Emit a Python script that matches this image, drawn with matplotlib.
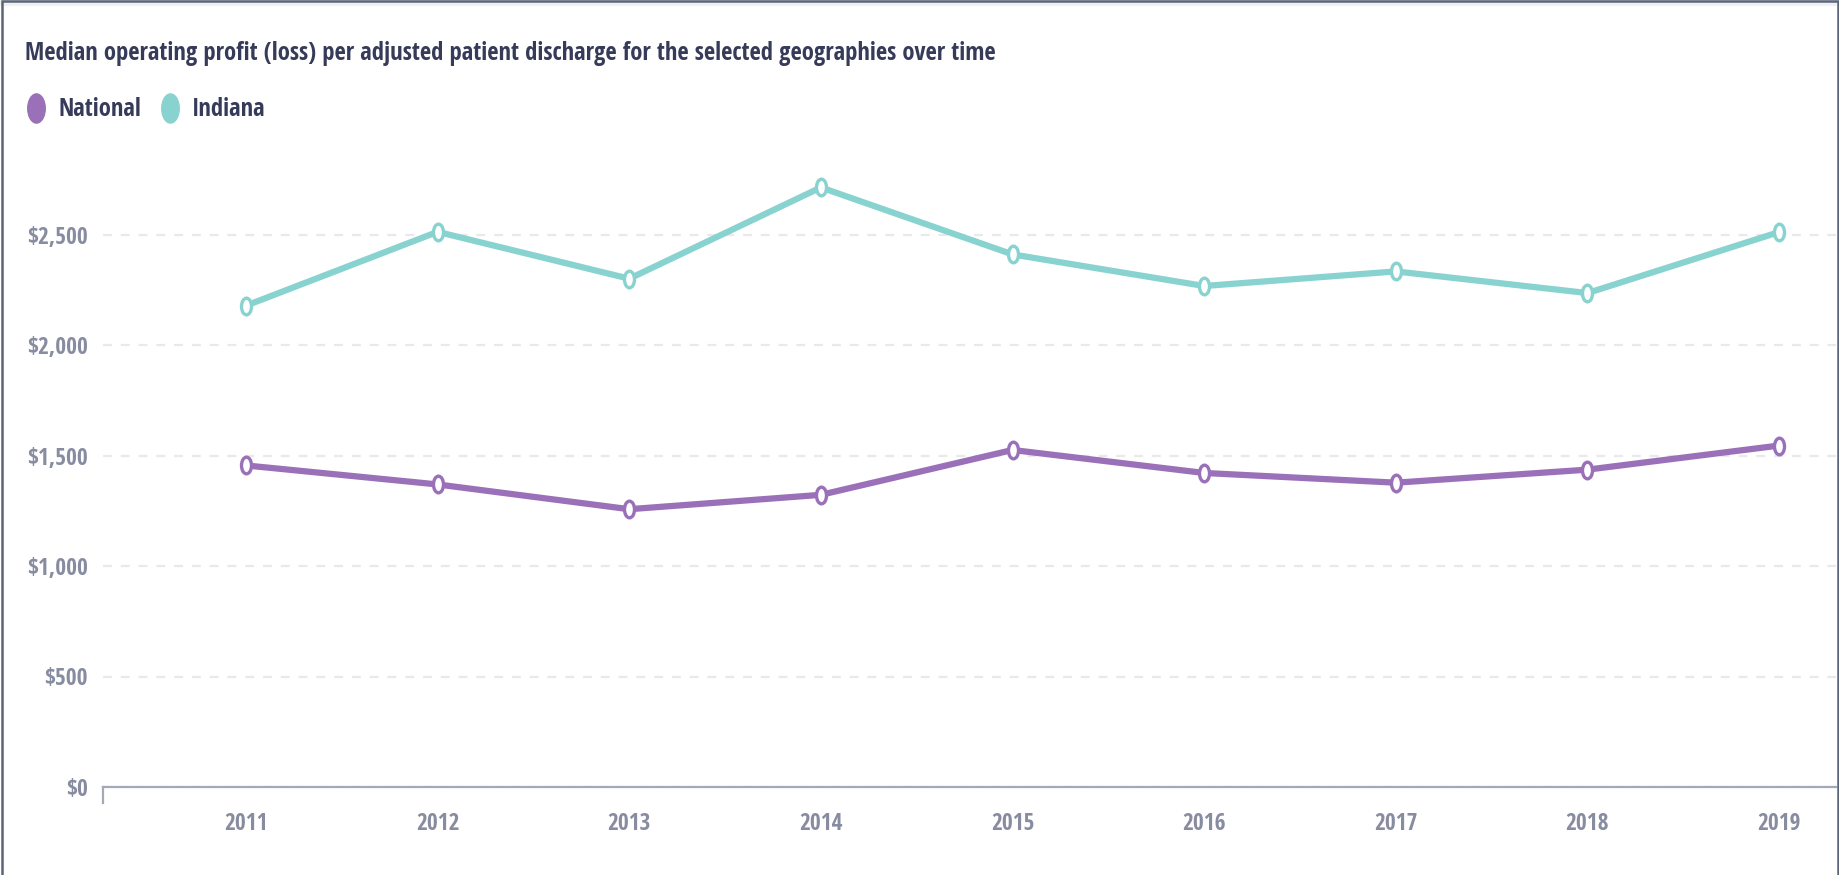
import os
import matplotlib
matplotlib.use("Agg")
import matplotlib.pyplot as plt
from matplotlib import font_manager
from matplotlib.font_manager import FontProperties
from matplotlib.lines import Line2D
from matplotlib.path import Path
from matplotlib.patches import Rectangle
from matplotlib.transforms import Affine2D, IdentityTransform
from matplotlib.ticker import FuncFormatter

# Data
years = [2011, 2012, 2013, 2014, 2015, 2016, 2017, 2018, 2019]
national = [1455, 1369, 1257, 1322, 1525, 1421, 1377, 1436, 1545]
indiana = [2178, 2512, 2300, 2713, 2410, 2267, 2333, 2235, 2511]
series_names = ["National", "Indiana"]
y_ticks = [0, 500, 1000, 1500, 2000, 2500]
title = "Median operating profit (loss) per adjusted patient discharge for the selected geographies over time"

PURPLE = "#9a70b9"
TEAL = "#88d3d0"
TITLE_COLOR = "#353b58"
TICK_COLOR = "#878ca1"
AXIS_COLOR = "#a4a8b8"
GRID_COLOR = "#e9e9ec"
BORDER = "#5b6578"


def weight_num(w):
    if isinstance(w, int):
        return w
    return font_manager.weight_dict.get(str(w), 400)


def find_narrow(want):
    # the reference text is squeezed sideways, look for a condensed face
    prefs = ["Lato", "Open Sans", "Noto Sans", "Roboto", "Inter", "DejaVu Sans", "Liberation Sans"]
    best = None
    for f in font_manager.fontManager.ttflist:
        base = os.path.basename(f.fname)
        narrow = ("condensed" in str(f.stretch) or "Condensed" in f.name or "Narrow" in f.name
                  or "Condensed" in base or "Narrow" in base)
        if not narrow or "Italic" in base or "Oblique" in base:
            continue
        w = weight_num(f.weight)
        if w < 500 or w > 800:
            continue
        rank = next((i for i, p in enumerate(prefs) if f.name.startswith(p)), len(prefs))
        key = (rank, abs(w - want))
        if best is None or key < best[0]:
            best = (key, f.fname)
    if best:
        return FontProperties(fname=best[1])
    return FontProperties(family="Lato", weight="bold")


plt.rcParams["font.family"] = ["Lato", "DejaVu Sans"]
fp_bold = find_narrow(700)
fp_semi = find_narrow(600)

# tall ellipse marker, as in the reference
ellipse = Path.unit_circle().transformed(Affine2D().scale(0.6, 1.0))

W, H = 1839, 875
fig = plt.figure(figsize=(W / 100, H / 100), dpi=100)
fig.patch.set_facecolor("white")

ax_left, ax_right = 103, 1836
ax_bottom_px = 787
ymax = 2900
px_per_unit = 110.5 / 500
ax_h = ymax * px_per_unit
ax = fig.add_axes([ax_left / W, (H - ax_bottom_px) / H, (ax_right - ax_left) / W, ax_h / H])

for name, vals, col in [(series_names[0], national, PURPLE), (series_names[1], indiana, TEAL)]:
    ax.plot(years, vals, color=col, lw=4.5, marker=ellipse, markersize=12,
            markerfacecolor="white", markeredgecolor=col, markeredgewidth=2.4,
            solid_joinstyle="round", zorder=3, label=name)

ax.set_xlim(2010.254, 2019.297)
ax.set_ylim(0, ymax)
ax.set_xticks(years)
ax.set_yticks(y_ticks)
ax.yaxis.set_major_formatter(FuncFormatter(lambda v, p: "${:,.0f}".format(v)))

for s in ["top", "right", "left"]:
    ax.spines[s].set_visible(False)
ax.spines["bottom"].set_color(AXIS_COLOR)
ax.spines["bottom"].set_linewidth(1.6)

ax.tick_params(axis="both", length=0, colors=TICK_COLOR)
ax.tick_params(axis="y", pad=11)
ax.tick_params(axis="x", pad=18)
ax.yaxis.grid(True, color=GRID_COLOR, lw=1.6, linestyle=(0, (4, 4)))
ax.set_axisbelow(True)

# small tick at the start of the x axis
ax.plot([0, 0], [0, -16 / ax_h], transform=ax.transAxes, color=AXIS_COLOR,
        lw=1.6, clip_on=False)

fig.canvas.draw()


def fit(txt, width_px, size0=17):
    # scale a text so it takes the width it has in the reference
    txt.set_fontsize(size0)
    fig.canvas.draw()
    w = txt.get_window_extent().width
    txt.set_fontsize(size0 * width_px / w)
    return size0 * width_px / w


# tick labels: "$2,500" is about 60 px wide
for lab in ax.get_yticklabels() + ax.get_xticklabels():
    lab.set_fontproperties(fp_bold)
ylab = [l for l in ax.get_yticklabels() if l.get_text() == "$2,500"][0]
tick_fs = fit(ylab, 61)
for lab in ax.get_yticklabels() + ax.get_xticklabels():
    lab.set_fontsize(tick_fs)

t = fig.text(25 / W, (H - 54) / H, title, color=TITLE_COLOR, va="center", ha="left",
             fontproperties=fp_semi)
fs = fit(t, 972)

# legend: marker centres at x 36 and 171, "National" starts at x 58
fs_px = fs * 100 / 72
leg_prop = fp_semi.copy()
leg_prop.set_size(fs)
x0 = 36 - fs_px / 2
handles = [Line2D([], [], ls="none", marker=ellipse, markersize=21, color=c)
           for c in (PURPLE, TEAL)]
leg = fig.legend(handles, series_names, loc="center left",
                 bbox_to_anchor=(x0 / W, (H - 110) / H), ncol=2, frameon=False,
                 prop=leg_prop, handlelength=1.0, handletextpad=(58 - x0 - fs_px) / fs_px,
                 columnspacing=(171 - fs_px / 2 - 142) / fs_px,
                 borderaxespad=0, borderpad=0)
for txt in leg.get_texts():
    txt.set_color(TITLE_COLOR)

# card border: dark left/right edges, thin top line with a pale band under it
fig.patches.append(Rectangle((0, H - 6), W, 6, transform=IdentityTransform(),
                             facecolor="#eef0f4", edgecolor="none"))
fig.patches.append(Rectangle((1.5, -10), 1836, H + 9, transform=IdentityTransform(),
                             facecolor="none", edgecolor=BORDER, lw=1.8))

fig.savefig("out.png", dpi=100, facecolor="white")
